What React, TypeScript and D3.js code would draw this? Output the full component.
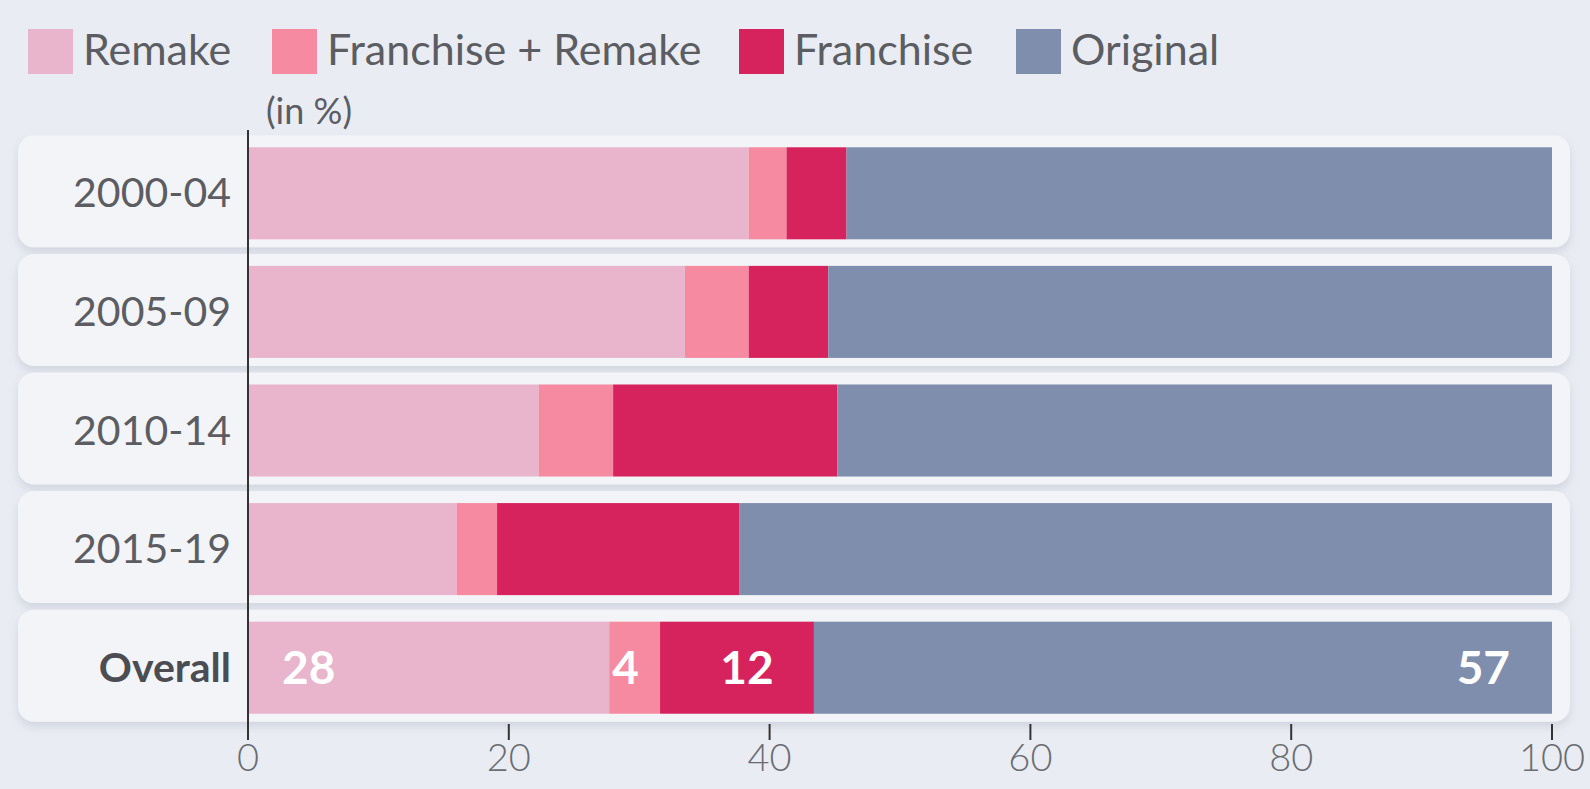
import React from 'react';
import * as d3 from 'd3';

const categories = ['2000-04', '2005-09', '2010-14', '2015-19', 'Overall'];
const seriesNames = ['Remake', 'Franchise + Remake', 'Franchise', 'Original'];
const remake = [38.4, 33.5, 22.3, 16.0, 27.7];
const franchiseRemake = [2.9, 4.9, 5.7, 3.1, 3.9];
const franchise = [4.6, 6.1, 17.2, 18.6, 11.8];
const original = [54.1, 55.5, 54.8, 62.3, 56.6];
const xTicks = [0, 20, 40, 60, 80, 100];
const colors = ['#e8b5cc', '#f58aa0', '#d6235d', '#7f8ead'];

const W = 1590;
const H = 789;
const FONT = 'Lato, "Open Sans", sans-serif';

export default function App() {
  const x = d3.scaleLinear().domain([0, 100]).range([248, 1552]);
  const y = d3.scaleBand<string>()
    .domain(categories)
    .range([134, 727])
    .paddingInner(0.224)
    .paddingOuter(0.112);

  const table = categories.map((c, i) => ({
    cat: c,
    Remake: remake[i],
    'Franchise + Remake': franchiseRemake[i],
    Franchise: franchise[i],
    Original: original[i],
  }));
  const stacked = d3.stack<any>().keys(seriesNames)(table);
  const bh = y.bandwidth();
  const legendX = [28, 272, 739, 1016];

  return (
    <svg width={W} height={H} style={{ position: 'absolute', left: 0, top: 0, background: '#e9ecf3' }}>
      <defs>
        <filter id="sh" x="-5%" y="-30%" width="110%" height="160%">
          <feDropShadow dx="0" dy="5" stdDeviation="5" floodColor="#9aa0b0" floodOpacity="0.3" />
        </filter>
      </defs>
      <rect width={W} height={H} fill="#e9ecf3" />

      {/* row panels */}
      {categories.map(c => (
        <rect key={c} x={18} y={(y(c) || 0) - 12} width={1552} height={bh + 20} rx={16}
          fill="#f3f4f8" filter="url(#sh)" />
      ))}

      {/* legend */}
      {seriesNames.map((s, i) => (
        <g key={s} transform={`translate(${legendX[i]},29)`}>
          <rect width={45} height={45} fill={colors[i]} />
          <text x={55} y={36} fontFamily={FONT} fontSize={43} fill="#5b5d62">{s}</text>
        </g>
      ))}
      <text x={266} y={124} fontFamily={FONT} fontSize={36} fill="#5b5d62">(in %)</text>

      {/* bars */}
      {stacked.map((layer, li) => (
        <g key={layer.key} fill={colors[li]}>
          {layer.map((d, i) => (
            <rect key={i} x={x(d[0])} y={y(categories[i])} width={x(d[1]) - x(d[0])} height={bh} />
          ))}
        </g>
      ))}

      {/* overall value labels */}
      {stacked.map((layer, li) => {
        const d = layer[categories.length - 1];
        const yc = (y('Overall') || 0) + bh / 2 + 16;
        let tx = (x(d[0]) + x(d[1])) / 2;
        let anchor = 'middle';
        if (li === 0) { tx = x(d[0]) + 34; anchor = 'start'; }
        if (li === 1) { tx = x(d[0]) + 3; anchor = 'start'; }
        if (li === 2) { tx += 10; }
        if (li === stacked.length - 1) { tx = x(d[1]) - 42; anchor = 'end'; }
        return (
          <text key={layer.key} x={tx} y={yc} textAnchor={anchor} fontFamily={FONT}
            fontWeight={700} fontSize={46} fill="#ffffff">
            {Math.round(d[1] - d[0])}
          </text>
        );
      })}

      {/* category labels */}
      {categories.map((c, i) => (
        <text key={c} x={231} y={(y(c) || 0) + bh / 2 + 14} textAnchor="end" fontFamily={FONT}
          fontSize={41} fontWeight={i === categories.length - 1 ? 700 : 400}
          fill={i === categories.length - 1 ? '#4b4d52' : '#5b5d62'}>
          {c}
        </text>
      ))}

      {/* axis */}
      <line x1={x(0)} x2={x(0)} y1={130} y2={740} stroke="#333" strokeWidth={2} />
      {xTicks.map(t => (
        <g key={t} transform={`translate(${x(t)},0)`}>
          <line y1={724} y2={740} stroke="#333" strokeWidth={2} />
          <text y={771} textAnchor="middle" fontFamily={FONT} fontWeight={300} fontSize={38} fill="#6a6c72">{t}</text>
        </g>
      ))}
    </svg>
  );
}
